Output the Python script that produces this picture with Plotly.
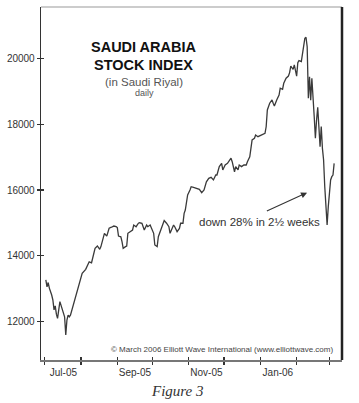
import plotly.graph_objects as go

# ---- data ----
dates = [
    "2005-07-02", "2005-07-03", "2005-07-04", "2005-07-05", "2005-07-07", "2005-07-08",
    "2005-07-09", "2005-07-10", "2005-07-11", "2005-07-12", "2005-07-14", "2005-07-15",
    "2005-07-17", "2005-07-18", "2005-07-19", "2005-07-20", "2005-07-21", "2005-07-22",
    "2005-07-23", "2005-07-25", "2005-07-27", "2005-07-29", "2005-07-31", "2005-08-02",
    "2005-08-05", "2005-08-06", "2005-08-08", "2005-08-10", "2005-08-11", "2005-08-13",
    "2005-08-15", "2005-08-17", "2005-08-18", "2005-08-20", "2005-08-21", "2005-08-23",
    "2005-08-24", "2005-08-25", "2005-08-27", "2005-08-29", "2005-08-31", "2005-09-01",
    "2005-09-02", "2005-09-04", "2005-09-05", "2005-09-06", "2005-09-08", "2005-09-09",
    "2005-09-10", "2005-09-12", "2005-09-14", "2005-09-15", "2005-09-17", "2005-09-19",
    "2005-09-20", "2005-09-22", "2005-09-24", "2005-09-26", "2005-09-27", "2005-09-29",
    "2005-10-01", "2005-10-02", "2005-10-03", "2005-10-05", "2005-10-06", "2005-10-08",
    "2005-10-10", "2005-10-11", "2005-10-13", "2005-10-15", "2005-10-16", "2005-10-17",
    "2005-10-19", "2005-10-20", "2005-10-22", "2005-10-24", "2005-10-25", "2005-10-27",
    "2005-10-28", "2005-10-29", "2005-10-30", "2005-10-31", "2005-11-02", "2005-11-03",
    "2005-11-05", "2005-11-08", "2005-11-10", "2005-11-12", "2005-11-14", "2005-11-16",
    "2005-11-18", "2005-11-20", "2005-11-22", "2005-11-24", "2005-11-25", "2005-11-27",
    "2005-11-29", "2005-11-30", "2005-12-02", "2005-12-04", "2005-12-06", "2005-12-07",
    "2005-12-08", "2005-12-10", "2005-12-11", "2005-12-13", "2005-12-14", "2005-12-16",
    "2005-12-18", "2005-12-20", "2005-12-21", "2005-12-23", "2005-12-24", "2005-12-25",
    "2005-12-27", "2005-12-28", "2005-12-30", "2006-01-01", "2006-01-03", "2006-01-05",
    "2006-01-06", "2006-01-07", "2006-01-09", "2006-01-11", "2006-01-12", "2006-01-13",
    "2006-01-15", "2006-01-17", "2006-01-18", "2006-01-20", "2006-01-21", "2006-01-23",
    "2006-01-25", "2006-01-26", "2006-01-27", "2006-01-29", "2006-01-30", "2006-01-31",
    "2006-02-01", "2006-02-02", "2006-02-03", "2006-02-05", "2006-02-06", "2006-02-07",
    "2006-02-08", "2006-02-09", "2006-02-10", "2006-02-11", "2006-02-12", "2006-02-13",
    "2006-02-14", "2006-02-16", "2006-02-17", "2006-02-18", "2006-02-19", "2006-02-21",
    "2006-02-22", "2006-02-23", "2006-02-24", "2006-02-25", "2006-02-26", "2006-02-27",
    "2006-02-28", "2006-03-02", "2006-03-03", "2006-03-04", "2006-03-05",
]
index_values = [
    13270, 13060, 13190, 13020, 12810, 12660,
    12360, 12480, 12230, 12100, 12610, 12510,
    12300, 12150, 11600, 12050, 12200, 12150,
    12200, 12460, 12710, 12960, 13170, 13470,
    13590, 13670, 13820, 13790, 13975, 14230,
    14300, 14200, 14280, 14530, 14685, 14600,
    14735, 14840, 14870, 14905, 14885, 14860,
    14600, 14580, 14430, 14230, 14280, 14300,
    14685, 14735, 14785, 14935, 14885, 14990,
    15005, 14990, 14785, 14935, 14885, 14935,
    14785, 14685, 14330, 14280, 14580, 14785,
    14990, 15070, 14990, 14885, 14685, 14785,
    14935, 14885, 14735, 14835, 14990, 14990,
    15290, 15390, 15600, 15850, 16000, 16100,
    16080, 16050, 16020, 15920, 16000, 16250,
    16355, 16385, 16305, 16455, 16455, 16710,
    16810, 16610, 16760, 16810, 16910, 16965,
    16860, 16555, 16710, 16610, 16760, 16710,
    16760, 16760, 16860, 17010, 17265, 17520,
    17570, 17670, 17620, 17650, 17670, 17720,
    17920, 18430, 18635, 18735, 18635, 18550,
    18735, 18885, 19090, 19060, 19240, 19395,
    19460, 19565, 19765, 19665, 19800, 19645,
    19460, 19865, 19930, 19900, 20100, 20305,
    20605, 20640, 20350, 18785, 19440, 18730,
    19390, 18230, 17570, 18125, 18510, 17315,
    17925, 17265, 16910, 16100, 15295, 14940,
    15495, 16305, 16405, 16455, 16810,
]

month_starts = ["2005-07-01", "2005-08-01", "2005-09-01", "2005-10-01", "2005-11-01",
                "2005-12-01", "2006-01-01", "2006-02-01", "2006-03-01"]
label_dates = ["2005-07-17", "2005-09-16", "2005-11-16", "2006-01-16"]
month_labels = ["Jul-05", "Sep-05", "Nov-05", "Jan-06"]
y_ticks = [12000, 14000, 16000, 18000, 20000]
y_labels = ["12000", "14000", "16000", "18000", "20000"]

x_range = ["2005-06-27 21:00", "2006-03-11 17:00"]
y_range = [10837, 21558]

SANS = "Liberation Sans, Arial, Helvetica, sans-serif"
SERIF = "Liberation Serif, Times New Roman, serif"
INK = "#333333"

fig = go.Figure()
fig.add_trace(go.Scatter(
    x=dates, y=index_values, mode="lines",
    line=dict(color="#3a3a3a", width=1.3),
    hoverinfo="skip", showlegend=False,
))
# empty traces so the overlaid tick axes get drawn
fig.add_trace(go.Scatter(x=[], y=[], xaxis="x2", yaxis="y2", mode="lines",
                         hoverinfo="skip", showlegend=False))
fig.add_trace(go.Scatter(x=[], y=[], xaxis="x3", yaxis="y", mode="lines",
                         hoverinfo="skip", showlegend=False))

fig.update_layout(
    width=359, height=403,
    margin=dict(l=38, r=17, t=7, b=43, pad=0),
    paper_bgcolor="white", plot_bgcolor="white",
    showlegend=False, hovermode=False,
    font=dict(family=SANS, color=INK, size=10),
    xaxis=dict(
        type="date", range=x_range,
        tickmode="array", tickvals=month_starts, showticklabels=False,
        ticks="outside", ticklen=3, tickwidth=1.2, tickcolor=INK,
        showline=True, linecolor="#777777", linewidth=1.5,
        showgrid=False, zeroline=False, fixedrange=True,
    ),
    xaxis2=dict(
        type="date", range=x_range, overlaying="x", anchor="y2", side="bottom",
        tickmode="array", tickvals=month_starts, showticklabels=False,
        ticks="inside", ticklen=3, tickwidth=1.2, tickcolor=INK,
        showline=False, showgrid=False, zeroline=False, fixedrange=True,
    ),
    xaxis3=dict(
        type="date", range=x_range, overlaying="x", anchor="y", side="bottom",
        tickmode="array", tickvals=label_dates, ticktext=month_labels,
        ticks="", showline=False, showgrid=False, zeroline=False, fixedrange=True,
        tickfont=dict(family=SANS, size=10, color=INK), ticklabelstandoff=5,
    ),
    yaxis=dict(
        range=y_range, tickmode="array", tickvals=y_ticks, ticktext=y_labels,
        ticks="outside", ticklen=3, tickwidth=1.2, tickcolor=INK,
        tickfont=dict(family=SANS, size=10, color=INK),
        showline=True, linecolor=INK, linewidth=1.3,
        showgrid=False, zeroline=False, fixedrange=True,
    ),
    yaxis2=dict(
        range=y_range, overlaying="y", anchor="x2", side="left",
        tickmode="array", tickvals=y_ticks, showticklabels=False,
        ticks="inside", ticklen=3, tickwidth=1.2, tickcolor=INK,
        showline=False, showgrid=False, zeroline=False, fixedrange=True,
    ),
)

# frame: thin top line, heavy right border
fig.add_shape(type="line", xref="paper", yref="paper", x0=0, x1=1, y0=1, y1=1,
              line=dict(color="#999999", width=1))
fig.add_shape(type="line", xref="paper", yref="paper", x0=1, x1=1, y0=0, y1=1,
              line=dict(color="#222222", width=2.5))

ann = []
ann.append(dict(text="<b>SAUDI ARABIA</b>", x=0.342, y=0.887, font=dict(family=SANS, size=14.5, color="#111111")))
ann.append(dict(text="<b>STOCK INDEX</b>", x=0.342, y=0.836, font=dict(family=SANS, size=14.5, color="#111111")))
ann.append(dict(text="(in Saudi Riyal)", x=0.341, y=0.788, font=dict(family=SANS, size=11.5, color="#555555")))
ann.append(dict(text="daily", x=0.344, y=0.7555, font=dict(family=SANS, size=9, color="#555555")))
ann.append(dict(text="down 28% in 2½ weeks", x=0.7247, y=0.392, font=dict(family=SANS, size=11.5, color=INK)))
ann.append(dict(text="© March 2006 Elliott Wave International (www.elliottwave.com)", x=0.977, y=0.031,
                xanchor="right", font=dict(family=SANS, size=8, color="#444444")))
ann.append(dict(text="<i>Figure 3</i>", x=0.455, y=-0.088, font=dict(family=SERIF, size=15, color=INK)))
for a in ann:
    a.setdefault("xanchor", "center")
    fig.add_annotation(xref="paper", yref="paper", yanchor="middle", showarrow=False, **a)

fig.add_annotation(xref="paper", yref="paper", x=0.8839, y=0.474, text="",
                   showarrow=True, axref="pixel", ayref="pixel", ax=-41.7, ay=19,
                   arrowhead=2, arrowsize=1.1, arrowwidth=1.1, arrowcolor=INK)

fig.write_html("out.html", config={"displayModeBar": False, "staticPlot": True},
               post_script="document.body.style.margin='0';")
